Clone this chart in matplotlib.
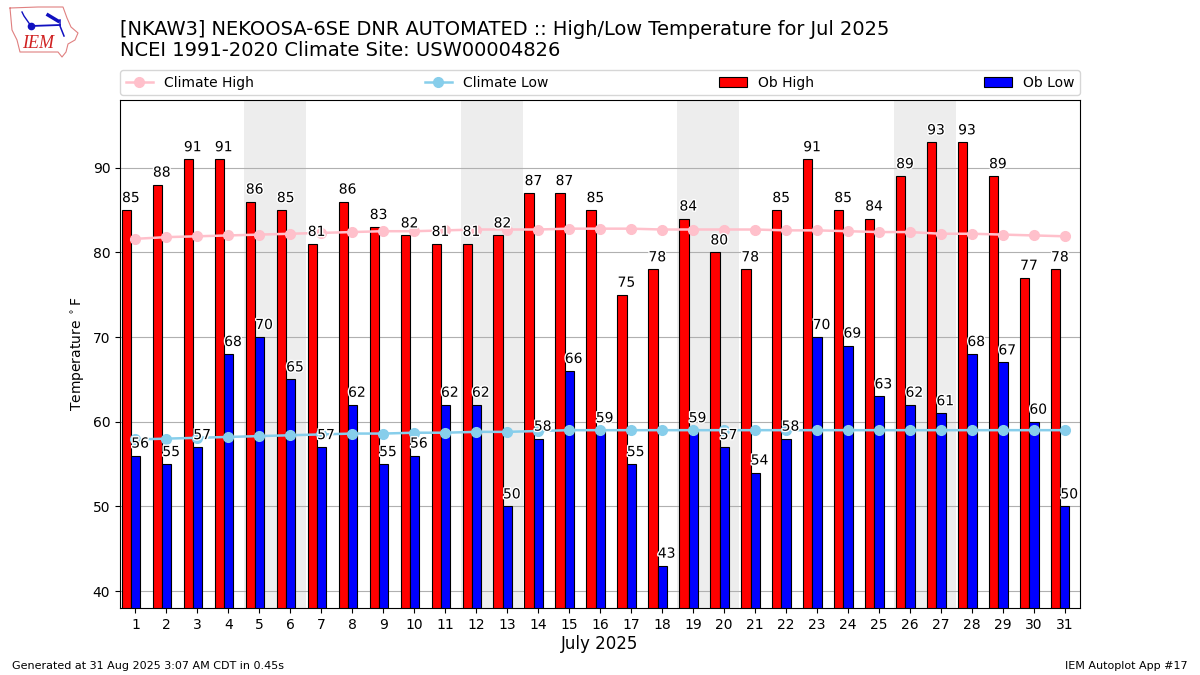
"""NKAW3 daily high/low temperatures vs climatology, Jul 2025."""
import matplotlib
matplotlib.use("Agg")
import matplotlib.patheffects as pe
import matplotlib.pyplot as plt
import numpy as np

days = list(range(1, 32))
ob_high = [85, 88, 91, 91, 86, 85, 81, 86, 83, 82, 81, 81, 82, 87, 87, 85,
           75, 78, 84, 80, 78, 85, 91, 85, 84, 89, 93, 93, 89, 77, 78]
ob_low = [56, 55, 57, 68, 70, 65, 57, 62, 55, 56, 62, 62, 50, 58, 66, 59,
          55, 43, 59, 57, 54, 58, 70, 69, 63, 62, 61, 68, 67, 60, 50]
clim_high = [81.6, 81.8, 81.9, 82.0, 82.1, 82.2, 82.3, 82.4, 82.5, 82.5, 82.6,
             82.7, 82.7, 82.7, 82.8, 82.8, 82.8, 82.7, 82.7, 82.7, 82.7, 82.6,
             82.6, 82.5, 82.4, 82.4, 82.2, 82.2, 82.1, 82.0, 81.9]
clim_low = [57.9, 58.0, 58.1, 58.2, 58.3, 58.4, 58.5, 58.6, 58.6, 58.7, 58.7,
            58.8, 58.8, 58.9, 59.0, 59.0, 59.0, 59.0, 59.0, 59.0, 59.0, 59.0,
            59.0, 59.0, 59.0, 59.0, 59.0, 59.0, 59.0, 59.0, 59.0]
weekends = [(4.5, 6.5), (11.5, 13.5), (18.5, 20.5), (25.5, 27.5)]
y_ticks = [40, 50, 60, 70, 80, 90]

x = np.array(days)
w = 0.3
stroke = [pe.withStroke(linewidth=2, foreground="white")]

fig = plt.figure(figsize=(12, 6.75), dpi=100)
ax = fig.add_axes([0.1, 0.0993, 0.8, 0.7526])

for lo, hi in weekends:
    ax.axvspan(lo, hi, color="#ededed", lw=0, zorder=0)

ax.bar(x - 0.14, ob_high, -w, align="edge", color="red", edgecolor="black",
       lw=0.8, label="Ob High", zorder=2)
ax.bar(x - 0.14, ob_low, w, align="edge", color="blue", edgecolor="black",
       lw=0.8, label="Ob Low", zorder=2)
ax.plot(x, clim_high, "-o", color="pink", lw=1.8, ms=7, label="Climate High", zorder=3)
ax.plot(x, clim_low, "-o", color="skyblue", lw=1.8, ms=7, label="Climate Low", zorder=3)

for d, hi, lo in zip(days, ob_high, ob_low):
    ax.annotate(str(hi), (d - 0.15, hi), xytext=(0, 3.6), textcoords="offset points",
                ha="center", va="bottom", fontsize=10, path_effects=stroke, zorder=4)
    ax.annotate(str(lo), (d + 0.15, lo), xytext=(0, 3.6), textcoords="offset points",
                ha="center", va="bottom", fontsize=10, path_effects=stroke, zorder=4)

ax.set_xlim(0.5, 31.5)
ax.set_ylim(38, 98)
ax.set_xticks(days)
ax.set_yticks(y_ticks)
ax.grid(axis="y", color="#b0b0b0", lw=0.8, zorder=1)
ax.set_axisbelow(True)
ax.set_xlabel("July 2025", fontsize=12, labelpad=2.5)
ax.set_ylabel(r"Temperature $^\circ$F")

handles, labels = ax.get_legend_handles_labels()
order = [labels.index(n) for n in ["Climate High", "Climate Low", "Ob High", "Ob Low"]]
ax.legend([handles[i] for i in order], [labels[i] for i in order], ncol=4,
          mode="expand", loc="lower left", bbox_to_anchor=(0, 1.0095, 1, 0.05),
          borderaxespad=0, fontsize=10)

fig.text(0.1, 0.9565, "[NKAW3] NEKOOSA-6SE DNR AUTOMATED :: High/Low Temperature for Jul 2025",
         fontsize=13.98, va="center")
fig.text(0.1, 0.9245, "NCEI 1991-2020 Climate Site: USW00004826", fontsize=14, va="center")
fig.text(0.01, 0.0135, "Generated at 31 Aug 2025 3:07 AM CDT in 0.45s", fontsize=8, va="center")
fig.text(0.99, 0.0135, "IEM Autoplot App #17", fontsize=8, ha="right", va="center")

# rough logo, drawn in pixel coords of the 1200x675 figure
logo = fig.add_axes([0, 1 - 60 / 675, 85 / 1200, 60 / 675])
logo.set_xlim(0, 85)
logo.set_ylim(60, 0)
logo.axis("off")
logo.plot([10, 38, 63, 67, 71, 78, 75, 68, 66, 62, 58, 20, 17, 12, 10],
          [8, 7, 7, 18, 27, 33, 40, 44, 52, 57, 52, 52, 40, 30, 8],
          color="#e08080", lw=0.8)
logo.plot([31, 60], [26, 25], color="#1010c0", lw=1.3)
logo.plot([60, 60, 64], [20, 26, 36], color="#1010c0", lw=1.1)
logo.plot([22, 24, 31], [12, 16, 26], color="#1010c0", lw=1)
logo.plot([48, 58], [15, 21], color="#1010c0", lw=2.5)
logo.plot([31], [26], "o", color="#1010c0", ms=4.5)
logo.text(38, 44, "IEM", color="#d02020", fontsize=13, family="Liberation Serif",
          style="italic", ha="center", va="center")

fig.savefig("out.png", dpi=100)
